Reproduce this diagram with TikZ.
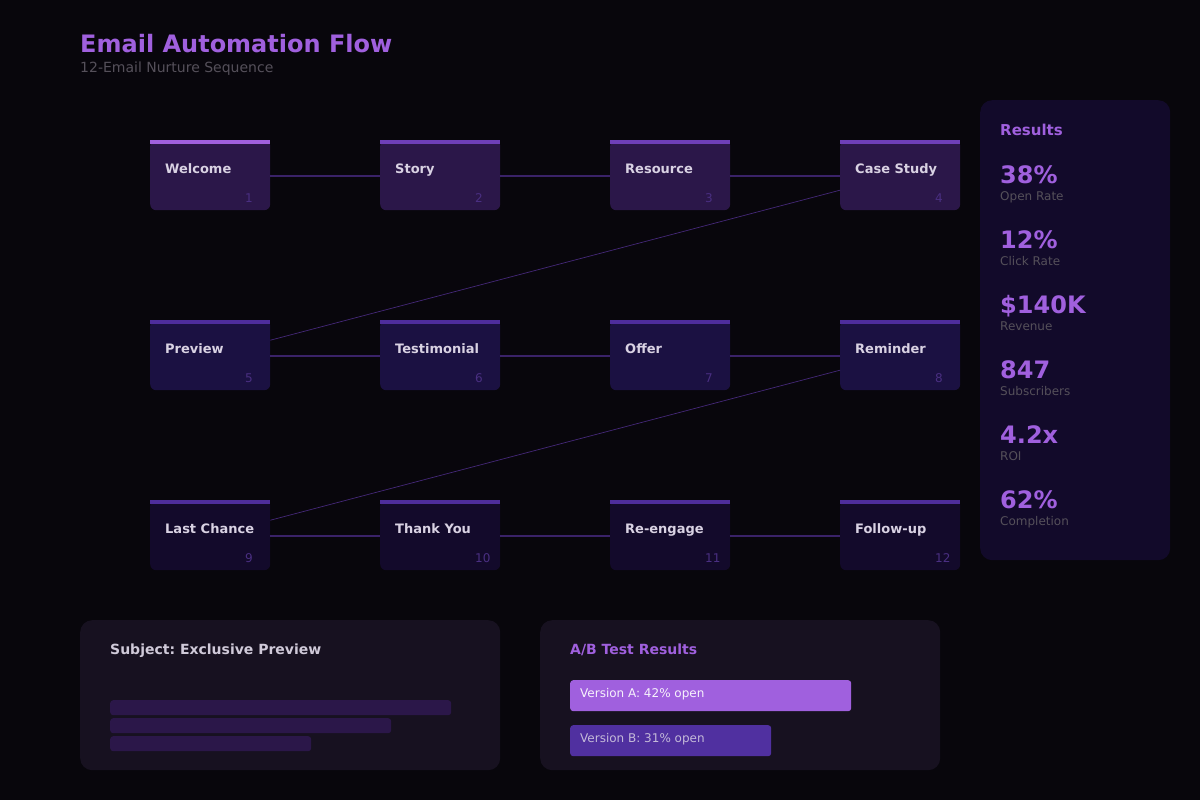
\documentclass[tikz,border=0pt]{standalone}
\usepackage{fontspec}
\setmainfont{DejaVu Sans}
\usepackage{tikz}
\usetikzlibrary{positioning}
\frenchspacing
\definecolor{fondo}{HTML}{08060C}
\definecolor{moradoVivo}{HTML}{A060DE}
\definecolor{moradoMedio}{HTML}{6E3FB8}
\definecolor{moradoOscuro}{HTML}{4E2D9C}
\definecolor{grisTexto}{HTML}{55505A}
\definecolor{textoClaro}{HTML}{D9D2E3}
\definecolor{numero}{HTML}{4A2F82}
\definecolor{filaUno}{HTML}{2B1749}
\definecolor{filaDos}{HTML}{1B1142}
\definecolor{filaTres}{HTML}{130A2B}
\definecolor{panelRes}{HTML}{120A2A}
\definecolor{panelInf}{HTML}{171120}
\definecolor{enlaceCol}{HTML}{3A2268}
\definecolor{versionB}{HTML}{5030A0}

\begin{document}
\begin{tikzpicture}[x=1pt, y=-1pt,
    tarjeta/.style={rectangle, rounded corners=6pt, minimum width=120pt, minimum height=70pt, inner sep=0pt, anchor=north west},
    fila1/.style={tarjeta, fill=filaUno},
    fila2/.style={tarjeta, fill=filaDos},
    fila3/.style={tarjeta, fill=filaTres},
    tit/.style={label={[anchor=base west, inner sep=0pt, xshift=15pt, yshift=2pt, text=textoClaro, font=\bfseries\fontsize{13}{15}\selectfont]west:#1}},
    num/.style={label={[anchor=base west, inner sep=0pt, xshift=95pt, yshift=8pt, text=numero, font=\fontsize{12}{14}\selectfont]south west:#1}},
    enlace/.style={draw=enlaceCol, line width=1.5pt},
    diagonal/.style={draw=enlaceCol!80!moradoMedio, line width=0.7pt},
    panel/.style={rectangle, rounded corners=12pt, inner sep=0pt, anchor=north west},
    valor/.style={anchor=base west, inner sep=0pt, text=moradoVivo, font=\bfseries\fontsize{24}{28}\selectfont},
    etiqueta/.style={anchor=base west, inner sep=0pt, text=grisTexto, font=\fontsize{12}{14}\selectfont},
    encabezado/.style={anchor=base west, inner sep=0pt, font=\bfseries\fontsize{14}{17}\selectfont},
    linea/.style={rectangle, rounded corners=3pt, fill=filaUno, minimum height=15pt, inner sep=0pt, anchor=north west},
    barraAB/.style={rectangle, rounded corners=3pt, minimum height=31pt, inner sep=0pt, anchor=north west},
    textoAB/.style={anchor=base west, inner sep=0pt, font=\fontsize{12}{14}\selectfont}
  ]
  \fill[fondo] (0,0) rectangle (1200,800);
  \useasboundingbox (0,0) rectangle (1200,800);

  % Encabezado
  \node[anchor=base west, inner sep=0pt, text=moradoVivo, font=\bfseries\fontsize{24}{28}\selectfont] (titulo) at (80,53) {Email Automation Flow};
  \node[anchor=base west, inner sep=0pt, text=grisTexto, font=\fontsize{14}{17}\selectfont] (subtitulo) at (80,73) {12-Email Nurture Sequence};

  % Secuencia de correos
  \node[fila1, tit=Welcome, num=1] (c1) at (150,140) {};
  \node[fila1, tit=Story, num=2] (c2) at (380,140) {};
  \node[fila1, tit=Resource, num=3] (c3) at (610,140) {};
  \node[fila1, tit=Case Study, num=4] (c4) at (840,140) {};
  \node[fila2, tit=Preview, num=5] (c5) at (150,320) {};
  \node[fila2, tit=Testimonial, num=6] (c6) at (380,320) {};
  \node[fila2, tit=Offer, num=7] (c7) at (610,320) {};
  \node[fila2, tit=Reminder, num=8] (c8) at (840,320) {};
  \node[fila3, tit=Last Chance, num=9] (c9) at (150,500) {};
  \node[fila3, tit=Thank You, num=10] (c10) at (380,500) {};
  \node[fila3, tit=Re-engage, num=11] (c11) at (610,500) {};
  \node[fila3, tit=Follow-up, num=12] (c12) at (840,500) {};

  % Barras superiores
  \fill[moradoVivo] (c1.north west) rectangle ([yshift=-4pt]c1.north east);
  \fill[moradoMedio] (c2.north west) rectangle ([yshift=-4pt]c2.north east);
  \fill[moradoMedio] (c3.north west) rectangle ([yshift=-4pt]c3.north east);
  \fill[moradoMedio] (c4.north west) rectangle ([yshift=-4pt]c4.north east);
  \fill[moradoOscuro] (c5.north west) rectangle ([yshift=-4pt]c5.north east);
  \fill[moradoOscuro] (c6.north west) rectangle ([yshift=-4pt]c6.north east);
  \fill[moradoOscuro] (c7.north west) rectangle ([yshift=-4pt]c7.north east);
  \fill[moradoOscuro] (c8.north west) rectangle ([yshift=-4pt]c8.north east);
  \fill[moradoOscuro] (c9.north west) rectangle ([yshift=-4pt]c9.north east);
  \fill[moradoOscuro] (c10.north west) rectangle ([yshift=-4pt]c10.north east);
  \fill[moradoOscuro] (c11.north west) rectangle ([yshift=-4pt]c11.north east);
  \fill[moradoOscuro] (c12.north west) rectangle ([yshift=-4pt]c12.north east);

  % Enlaces
  \draw[enlace] ([yshift=-1pt]c1.east) -- ([yshift=-1pt]c2.west);
  \draw[enlace] ([yshift=-1pt]c2.east) -- ([yshift=-1pt]c3.west);
  \draw[enlace] ([yshift=-1pt]c3.east) -- ([yshift=-1pt]c4.west);
  \draw[enlace] ([yshift=-1pt]c5.east) -- ([yshift=-1pt]c6.west);
  \draw[enlace] ([yshift=-1pt]c6.east) -- ([yshift=-1pt]c7.west);
  \draw[enlace] ([yshift=-1pt]c7.east) -- ([yshift=-1pt]c8.west);
  \draw[enlace] ([yshift=-1pt]c9.east) -- ([yshift=-1pt]c10.west);
  \draw[enlace] ([yshift=-1pt]c10.east) -- ([yshift=-1pt]c11.west);
  \draw[enlace] ([yshift=-1pt]c11.east) -- ([yshift=-1pt]c12.west);
  \draw[diagonal] ([yshift=-15pt]c4.west) -- ([yshift=15pt]c5.east);
  \draw[diagonal] ([yshift=-15pt]c8.west) -- ([yshift=15pt]c9.east);

  % Panel de resultados
  \node[panel, fill=panelRes, minimum width=190pt, minimum height=460pt] (resultados) at (980,100) {};
  \node[encabezado, text=moradoVivo, font=\bfseries\fontsize{15}{18}\selectfont] (resTit) at (1000,135) {Results};
  \node[valor] (v1) at (1000,183) {38\%};
  \node[etiqueta] (e1) at (1000,200) {Open Rate};
  \node[valor] (v2) at (1000,248) {12\%};
  \node[etiqueta] (e2) at (1000,265) {Click Rate};
  \node[valor] (v3) at (1000,313) {\$140K};
  \node[etiqueta] (e3) at (1000,330) {Revenue};
  \node[valor] (v4) at (1000,378) {847};
  \node[etiqueta] (e4) at (1000,395) {Subscribers};
  \node[valor] (v5) at (1000,443) {4.2x};
  \node[etiqueta] (e5) at (1000,460) {ROI};
  \node[valor] (v6) at (1000,508) {62\%};
  \node[etiqueta] (e6) at (1000,525) {Completion};

  % Vista previa del asunto
  \node[panel, fill=panelInf, minimum width=420pt, minimum height=150pt] (asunto) at (80,620) {};
  \node[encabezado, text=textoClaro!90!gray] (asuntoTit) at (110,654) {Subject: Exclusive Preview};
  \node[linea, minimum width=341pt] (l1) at (110,700) {};
  \node[linea, minimum width=281pt] (l2) at (110,718) {};
  \node[linea, minimum width=201pt] (l3) at (110,736) {};

  % Prueba A/B
  \node[panel, fill=panelInf, minimum width=400pt, minimum height=150pt] (prueba) at (540,620) {};
  \node[encabezado, text=moradoVivo] (pruebaTit) at (570,654) {A/B Test Results};
  \node[barraAB, fill=moradoVivo, minimum width=281pt] (barA) at (570,680) {};
  \node[textoAB, text=white!92!moradoVivo] (txtA) at (580,697) {Version A: 42\% open};
  \node[barraAB, fill=versionB, minimum width=201pt] (barB) at (570,725) {};
  \node[textoAB, text=textoClaro!85!versionB] (txtB) at (580,742) {Version B: 31\% open};
\end{tikzpicture}
\end{document}
